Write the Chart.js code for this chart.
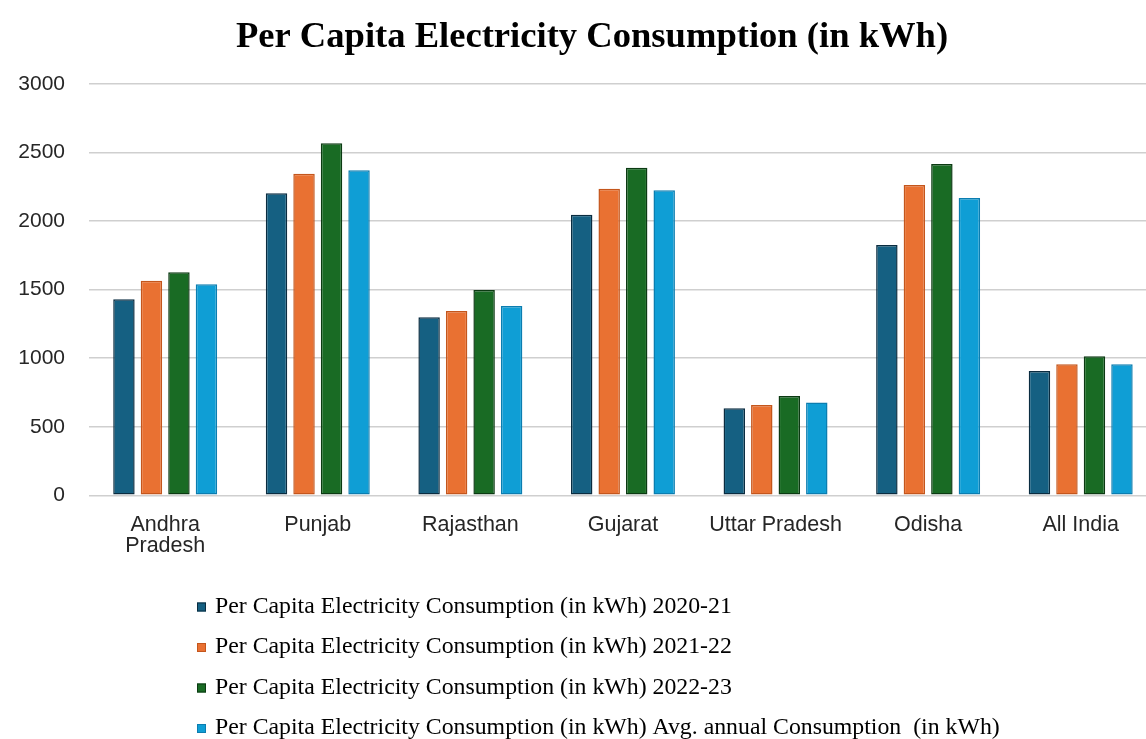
<!DOCTYPE html>
<html>
<head>
<meta charset="utf-8">
<title>Per Capita Electricity Consumption (in kWh)</title>
<script src="https://cdn.jsdelivr.net/npm/chart.js@4.4.1/dist/chart.umd.min.js"></script>
<style>
  html, body { margin: 0; padding: 0; background: #ffffff; overflow: hidden; }
  #wrap { width: 1160px; height: 739px; position: relative; }
  canvas { display: block; }
</style>
</head>
<body>
<div id="wrap"><canvas id="chart" width="1160" height="739"></canvas></div>
<script>
const chartTitle = "Per Capita Electricity Consumption (in kWh)";

// States / regions on the category axis
const categories = [["Andhra", "Pradesh"], "Punjab", "Rajasthan", "Gujarat", "Uttar Pradesh", "Odisha", "All India"];

// Series names
const seriesLabels = [
  "Per Capita Electricity Consumption (in kWh) 2020-21",
  "Per Capita Electricity Consumption (in kWh) 2021-22",
  "Per Capita Electricity Consumption (in kWh) 2022-23",
  "Per Capita Electricity Consumption (in kWh) Avg. annual Consumption  (in kWh)"
];

// Per capita consumption, kWh
const fy2020_21 = [1430, 2203, 1298, 2047, 635, 1826, 907];
const fy2021_22 = [1565, 2346, 1344, 2236, 659, 2263, 955];
const fy2022_23 = [1627, 2567, 1497, 2390, 724, 2417, 1014];
const avgAnnual = [1539, 2370, 1381, 2225, 676, 2169, 955];

// Value axis ticks
const yTicks = [0, 500, 1000, 1500, 2000, 2500, 3000];

const fills   = ["#156082", "#E97132", "#196B24", "#0F9ED5"];
const borders = ["#0a2c40", "#c4561c", "#0b3a12", "#0b7db0"];
const seriesValues = [fy2020_21, fy2021_22, fy2022_23, avgAnnual];

// Heading above the plot and a vertical key below it, drawn from the dataset labels and colours
const headingAndKey = {
  id: "headingAndKey",
  afterDraw(chart, args, opts) {
    const ctx = chart.ctx;
    ctx.save();
    // heading
    ctx.font = "bold " + opts.titleSize + "px " + opts.serif;
    ctx.fillStyle = "#000000";
    ctx.textAlign = "center";
    ctx.textBaseline = "alphabetic";
    ctx.fillText(opts.title, opts.titleX, opts.titleBaseline);
    // key
    ctx.textAlign = "left";
    chart.data.datasets.forEach((ds, i) => {
      const base = opts.keyTop + i * opts.keySpacing;
      ctx.fillStyle = ds.backgroundColor;
      ctx.fillRect(opts.keyLeft, base - 10, 9, 9);
      ctx.strokeStyle = ds.borderColor;
      ctx.lineWidth = 1;
      ctx.strokeRect(opts.keyLeft + 0.5, base - 9.5, 8, 8);
      ctx.font = opts.keySize + "px " + opts.serif;
      ctx.fillStyle = "#000000";
      ctx.fillText(ds.label, opts.keyLeft + 18, base);
    });
    ctx.restore();
  }
};

new Chart(document.getElementById("chart"), {
  type: "bar",
  data: {
    labels: categories,
    datasets: seriesValues.map((vals, i) => ({
      label: seriesLabels[i],
      data: vals,
      backgroundColor: fills[i],
      borderColor: borders[i],
      borderWidth: 1.5,
      borderSkipped: false,
      categoryPercentage: 0.721,
      barPercentage: 0.78
    }))
  },
  plugins: [headingAndKey],
  options: {
    responsive: false,
    animation: false,
    devicePixelRatio: 1,
    layout: { padding: { left: 0, right: 3, top: 84, bottom: 183.7 } },
    plugins: {
      legend: { display: false },
      tooltip: { enabled: false },
      title: { display: false },
      headingAndKey: {
        title: chartTitle,
        serif: "'Liberation Serif', 'Times New Roman', serif",
        titleSize: 36.6, titleX: 592, titleBaseline: 47,
        keyLeft: 197, keyTop: 612.5, keySpacing: 40.5, keySize: 23.8
      }
    },
    scales: {
      x: {
        grid: { display: false, drawTicks: false },
        border: { display: false },
        ticks: {
          color: "#262626",
          padding: 18.8,
          maxRotation: 0,
          autoSkip: false,
          font: { family: "'Liberation Sans', Arial, sans-serif", size: 21.5, lineHeight: 1.0 }
        },
        afterFit(scale) { scale.height = 60; }
      },
      y: {
        min: 0,
        max: 3000,
        afterBuildTicks(scale) { scale.ticks = yTicks.map(v => ({ value: v })); },
        grid: { color: "#cfcfcf", lineWidth: 1.5, drawTicks: false },
        border: { display: false },
        ticks: {
          color: "#262626",
          padding: 23.9,
          callback: (v) => String(v),
          font: { family: "'Liberation Sans', Arial, sans-serif", size: 21 }
        },
        afterFit(scale) { scale.width = 88.9; }
      }
    }
  }
});
</script>
</body>
</html>
